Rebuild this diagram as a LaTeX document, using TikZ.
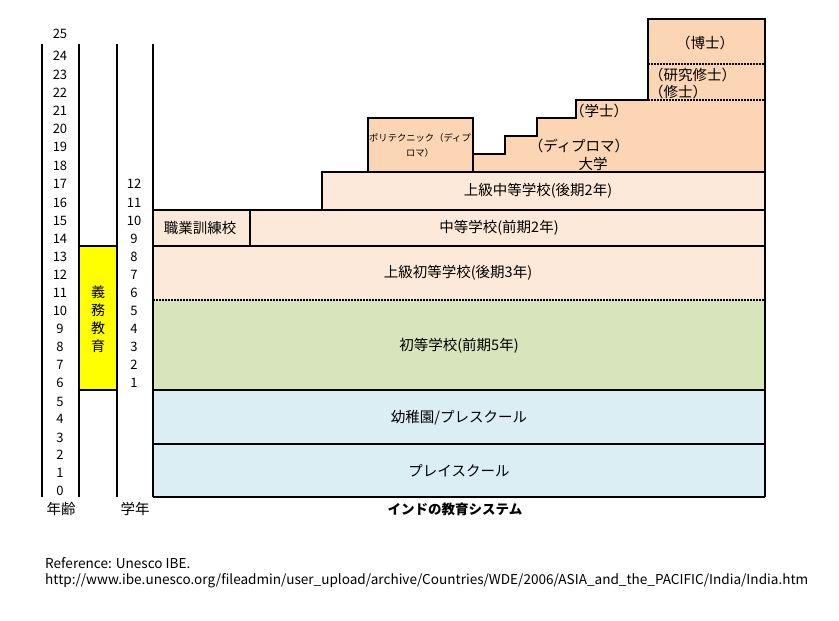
\documentclass[tikz,border=0pt]{standalone}
\usepackage{fontspec}
\setmainfont{Noto Sans CJK JP}
\definecolor{uni}{HTML}{FCD5B4}
\definecolor{sec}{HTML}{FDE9D9}
\definecolor{pri}{HTML}{D7E4BC}
\definecolor{pre}{HTML}{DBEEF3}
\definecolor{duty}{HTML}{FFFF00}
\begin{document}
\begin{tikzpicture}[x=1pt,y=-1pt,
  lbl/.style={font=\fontsize{14.5}{17}\selectfont, inner sep=0pt},
  small/.style={font=\fontsize{9.3}{15}\selectfont, inner sep=0pt, align=center},
  num/.style={font=\fontsize{13}{15}\selectfont, inner sep=0pt},
  edge/.style={line width=1.4pt},
  dots/.style={line width=1.1pt, dash pattern=on 1.5pt off 1.5pt}]
\useasboundingbox (0,0) rectangle (839,621);
% fills
\fill[pre] (153,444) rectangle (765,497);
\fill[pre] (153,390) rectangle (765,444);
\fill[pri] (153,300) rectangle (765,390);
\fill[sec] (153,246) rectangle (765,300);
\fill[sec] (153,210) rectangle (765,246);
\fill[sec] (322,172) rectangle (765,210);
\fill[uni] (368,118) rectangle (473,172);
\fill[uni] (473,172) -- (473,154) -- (505,154) -- (505,136) -- (537,136) -- (537,118)
  -- (576,118) -- (576,100) -- (648,100) -- (648,19) -- (765,19) -- (765,172) -- cycle;
\fill[duty] (79,246) rectangle (117,390);
% vertical column lines
\foreach \x in {42,79,117,153} \draw[edge] (\x,44) -- (\x,497);
\draw[edge] (79,246) -- (117,246);
\draw[edge] (79,390) -- (117,390);
% box outlines
\draw[edge] (153,497) -- (765,497);
\draw[edge] (153,444) -- (765,444);
\draw[edge] (153,390) -- (765,390);
\draw[dots] (153,300) -- (765,300);
\draw[edge] (153,246) -- (765,246);
\draw[edge] (153,210) -- (765,210);
\draw[edge] (250,210) -- (250,246);
\draw[edge] (322,210) -- (322,172) -- (765,172);
\draw[edge] (368,172) -- (368,118) -- (473,118) -- (473,172);
\draw[edge] (473,154) -- (505,154) -- (505,136) -- (537,136) -- (537,118)
  -- (576,118) -- (576,100) -- (648,100) -- (648,19) -- (765,19) -- (765,497);
\draw[dots] (648,100) -- (765,100);
\draw[dots] (648,64) -- (765,64);
% age labels
\foreach \a/\y in {25/34,24/56,23/75,22/93,21/111,20/129,19/147,18/166,17/184,16/203,15/221,14/239,13/257,12/275,11/293,10/311,9/329,8/347,7/365,6/383,5/402,4/419,3/438,2/455,1/473,0/491}
  \node[num] (age\a) at (60,\y) {\a};
\foreach \g/\y in {12/184,11/203,10/221,9/239,8/257,7/275,6/293,5/311,4/329,3/347,2/365,1/383}
  \node[num] (grade\g) at (134,\y) {\g};
\node[lbl, align=center, font=\fontsize{14}{18}\selectfont] (duty) at (98,319.5) {義\\務\\教\\育};
\node[lbl] (agehead) at (61,509) {年齢};
\node[lbl] (gradehead) at (135,509) {学年};
\node[lbl, font=\fontsize{13.5}{16}\selectfont\bfseries] (title) at (455,509) {インドの教育システム};
% school labels
\node[lbl] (play) at (459,471) {プレイスクール};
\node[lbl] (kinder) at (459,418) {幼稚園/プレスクール};
\node[lbl] (primary) at (459,346) {初等学校(前期5年)};
\node[lbl] (upprim) at (458,273) {上級初等学校(後期3年)};
\node[lbl] (voc) at (200,228) {職業訓練校};
\node[lbl] (middle) at (499,228) {中等学校(前期2年)};
\node[lbl] (upsec) at (538,191) {上級中等学校(後期2年)};
\node[small] (poly) at (420,145) {ポリテクニック（ディプ\\ロマ）};
\node[lbl] (diploma) at (579,146) {（ディプロマ）};
\node[lbl] (univ) at (593,164) {大学};
\node[lbl] (bach) at (599,111) {（学士）};
\node[lbl, anchor=west] (rmaster) at (649,75) {（研究修士）};
\node[lbl, anchor=west] (master) at (649,92) {（修士）};
\node[lbl] (doctor) at (705,43) {（博士）};
% reference
\node[anchor=west, inner sep=0pt] (ref) at (45,573.5) {\resizebox{763pt}{!}{\begin{tabular}{@{}l@{}}Reference: Unesco IBE.\\http://www.ibe.unesco.org/fileadmin/user\_upload/archive/Countries/WDE/2006/ASIA\_and\_the\_PACIFIC/India/India.htm\end{tabular}}};
\end{tikzpicture}
\end{document}
